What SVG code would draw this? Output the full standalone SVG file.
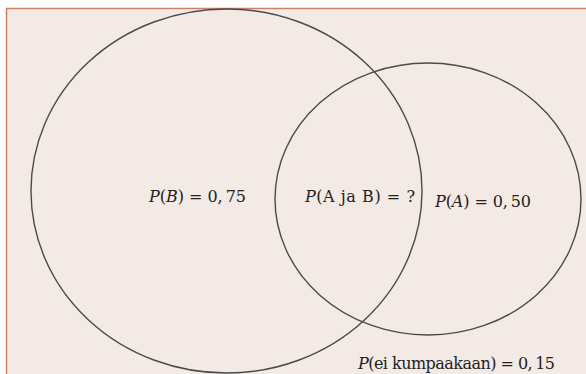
<svg xmlns="http://www.w3.org/2000/svg" width="586" height="374" viewBox="0 0 586 374">
<style>
.bg{fill:#f3e9e5}
.frame{fill:none;stroke:#c98563;stroke-width:1.5}
.set{fill:none;stroke:#4a4a4a;stroke-width:1.4}
.lbl{font-family:"DejaVu Serif","Liberation Serif",serif;font-size:16px;fill:#222}
.it{font-style:italic}
</style>
<rect x="0" y="0" width="586" height="374" fill="#ffffff"/>
<rect class="bg" x="6" y="8" width="580" height="366"/>
<path class="frame" d="M6.5,374 V8.5 H586"/>
<g id="setB">
<ellipse class="set" cx="226.5" cy="191" rx="195.5" ry="182"/>
<text class="lbl" x="149" y="202" textLength="97" lengthAdjust="spacing"><tspan class="it">P</tspan>(<tspan class="it">B</tspan>) = 0,<tspan dx="3">75</tspan></text>
</g>
<g id="setA">
<ellipse class="set" cx="428" cy="199" rx="153" ry="136"/>
<text class="lbl" x="435" y="207" textLength="96" lengthAdjust="spacing"><tspan class="it">P</tspan>(<tspan class="it">A</tspan>) = 0,<tspan dx="3">50</tspan></text>
</g>
<g id="intersection">
<text class="lbl" x="305" y="202" textLength="110" lengthAdjust="spacing"><tspan class="it">P</tspan>(A ja B) = ?</text>
</g>
<g id="neither">
<text class="lbl" x="358" y="369" textLength="197" lengthAdjust="spacing"><tspan class="it">P</tspan>(ei kumpaakaan) = 0,<tspan dx="3">15</tspan></text>
</g>
<g id="connectors"></g>
</svg>
